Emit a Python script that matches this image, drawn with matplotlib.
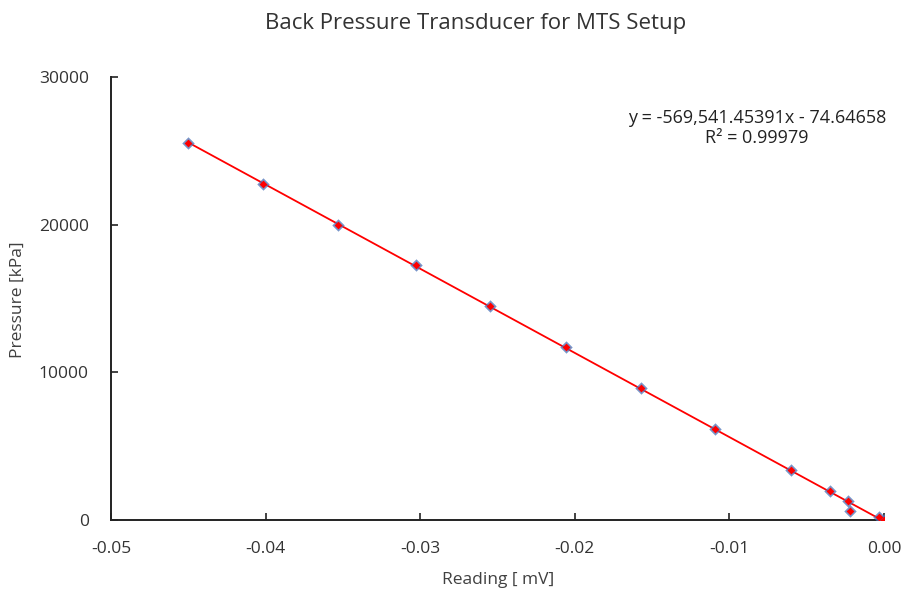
import numpy as np
import matplotlib.pyplot as plt

plt.rcParams["font.family"] = ["Open Sans", "DejaVu Sans"]

# readings [mV] and pressures [kPa]
reading = [-0.0450, -0.0402, -0.0353, -0.0303, -0.0255, -0.0206, -0.0157,
           -0.0109, -0.0060, -0.0035, -0.0023, -0.0022, -0.0003, 0.0000]
pressure = [25530, 22750, 20000, 17270, 14490, 11720, 8940,
            6160, 3390, 1980, 1310, 590, 220, 0]

x_ticks = [-0.05, -0.04, -0.03, -0.02, -0.01, 0.0]
x_tick_labels = ["-0.05", "-0.04", "-0.03", "-0.02", "-0.01", "0.00"]
y_ticks = [0, 10000, 20000, 30000]
y_tick_labels = ["0", "10000", "20000", "30000"]

eq_text = "y = -569,541.45391x - 74.64658\nR\u00b2 = 0.99979"


def main() -> None:
    fig = plt.figure(figsize=(9.13, 5.95), dpi=100)
    ax = fig.add_axes([111 / 913, 1 - 520 / 595, 773 / 913, 443 / 595])

    x = np.array(reading)
    y = np.array(pressure)
    slope, intercept = np.polyfit(x, y, 1)
    xs = np.array([x.min(), x.max()])
    ax.plot(xs, slope * xs + intercept, color="red", lw=1.3, zorder=2)

    ax.scatter(x, y, marker="D", s=40, color="#4a72b8", alpha=0.75, zorder=3,
               linewidths=0)
    ax.scatter(x, y, marker="D", s=16, color="red", zorder=4, linewidths=0)

    ax.set_xlim(-0.05, 0.0)
    ax.set_ylim(0, 30000)
    ax.set_xticks(x_ticks)
    ax.set_xticklabels(x_tick_labels)
    ax.set_yticks(y_ticks)
    ax.set_yticklabels(y_tick_labels)
    ax.tick_params(direction="in", length=5, width=1.2, labelsize=12.5,
                   colors="#222222", labelcolor="#333333")
    ax.tick_params(axis="x", pad=15)
    ax.tick_params(axis="y", pad=16)

    for side in ["top", "right"]:
        ax.spines[side].set_visible(False)
    for side in ["left", "bottom"]:
        ax.spines[side].set_color("#222222")
        ax.spines[side].set_linewidth(1.4)

    fig.text(498 / 913, 1 - 580 / 595, "Reading [ mV]", ha="center",
             va="center", fontsize=12.5, color="#404040")
    fig.text(18 / 913, 1 - 300 / 595, "Pressure [kPa]", ha="center",
             va="center", rotation=90, fontsize=12.5, color="#404040")
    fig.text(476 / 913, 1 - 23 / 595, "Back Pressure Transducer for MTS Setup",
             ha="center", va="center", fontsize=16, color="#333333")
    fig.text(757 / 913, 1 - 128 / 595, eq_text, ha="center", va="center",
             multialignment="center", fontsize=13, color="#222222",
             linespacing=1.15)

    fig.savefig("out.png", dpi=100)
    plt.close(fig)


if __name__ == "__main__":
    main()
